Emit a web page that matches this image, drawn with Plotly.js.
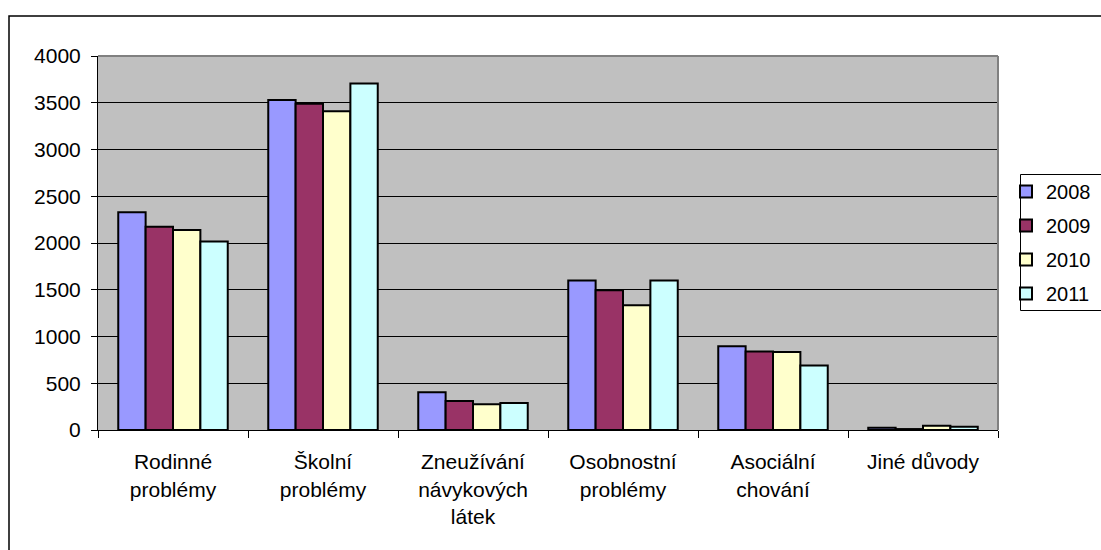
<!DOCTYPE html>
<html>
<head>
<meta charset="utf-8">
<script src="https://cdn.plot.ly/plotly-3.0.1.min.js"></script>
<style>html,body{margin:0;padding:0;background:#fff;}#chart{width:1101px;height:550px;}</style>
</head>
<body>
<div id="chart"></div>
<script>
const categories = ["Rodinné<br>problémy", "Školní<br>problémy", "Zneužívání<br>návykových<br>látek", "Osobnostní<br>problémy", "Asociální<br>chování", "Jiné důvody"];
const years = ["2008", "2009", "2010", "2011"];
const values2008 = [2330, 3530, 405, 1600, 895, 25];
const values2009 = [2175, 3490, 310, 1495, 840, 10];
const values2010 = [2140, 3410, 275, 1335, 835, 45];
const values2011 = [2015, 3705, 290, 1600, 690, 35];
const yTicks = [0, 500, 1000, 1500, 2000, 2500, 3000, 3500, 4000];
const colors = ["#9999FF", "#993366", "#FFFFCC", "#CCFFFF"];
const series = [values2008, values2009, values2010, values2011];

const W = 1101, H = 550;
const ML = 98, MR = 103, MT = 56, MB = 120;
const PW = W - ML - MR, PH = H - MT - MB;
const fx = v => (v - ML) / PW;          // pixel x -> plot-paper fraction
const fy = v => (H - MB - v) / PH;      // pixel y (from top) -> plot-paper fraction

const FONT = "Liberation Sans, Arial, sans-serif";
const traces = series.map((vals, i) => ({
  type: "bar",
  name: years[i],
  x: categories,
  y: vals,
  legendgroup: years[i],
  marker: {color: colors[i], line: {color: "#000", width: 2}},
  hoverinfo: "x+y+name"
}));

const layout = {
  width: W, height: H,
  margin: {l: ML, r: MR, t: MT, b: MB, pad: 0, autoexpand: false},
  paper_bgcolor: "#ffffff",
  plot_bgcolor: "#C0C0C0",
  barmode: "group",
  bargap: 0.27,
  bargroupgap: 0,
  font: {family: FONT, color: "#000", size: 21},
  xaxis: {
    type: "category",
    automargin: false,
    showline: true, linecolor: "#000", linewidth: 1,
    ticks: "outside", tickson: "boundaries", ticklen: 7, tickcolor: "#000", tickwidth: 1,
    ticklabelstandoff: 13,
    tickfont: {family: FONT, size: 21, color: "#000"},
    showgrid: false, zeroline: false, fixedrange: true
  },
  yaxis: {
    automargin: false,
    range: [0, 4000],
    tickvals: yTicks,
    ticktext: yTicks.map(String),
    showline: true, linecolor: "#000", linewidth: 1,
    ticks: "outside", ticklen: 6, tickcolor: "#000", tickwidth: 1,
    ticklabelstandoff: 6,
    tickfont: {family: FONT, size: 21, color: "#000"},
    showgrid: true, gridcolor: "#000", gridwidth: 1,
    zeroline: false, fixedrange: true
  },
  showlegend: true,
  legend: {
    x: fx(1006), xanchor: "left",
    y: fy(172), yanchor: "top",
    bgcolor: "rgba(0,0,0,0)", borderwidth: 0,
    font: {family: FONT, size: 20, color: "#000"},
    tracegroupgap: 5,
    traceorder: "grouped"
  },
  shapes: [
    {type: "line", xref: "paper", yref: "paper", x0: 0, x1: 1, y0: 1, y1: 1, line: {color: "#808080", width: 2}, layer: "above"},
    {type: "line", xref: "paper", yref: "paper", x0: 1, x1: 1, y0: 1, y1: 0, line: {color: "#808080", width: 2}, layer: "above"},
    {type: "rect", xref: "paper", yref: "paper", x0: fx(9), y0: fy(16), x1: 1.3, y1: -0.5, line: {color: "#000", width: 1.5}, fillcolor: "rgba(0,0,0,0)", layer: "above"},
    {type: "rect", xref: "paper", yref: "paper", x0: fx(1020.5), y0: fy(174.5), x1: 1.3, y1: fy(310.5), line: {color: "#000", width: 1}, fillcolor: "rgba(0,0,0,0)", layer: "below"}
  ]
};

Plotly.newPlot("chart", traces, layout, {displayModeBar: false, staticPlot: true});
</script>
</body>
</html>
